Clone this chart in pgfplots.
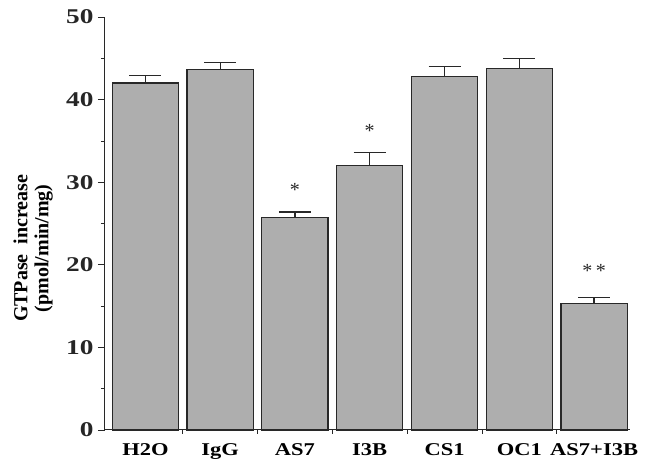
\documentclass[border=0pt]{standalone}
\usepackage{pgfplots}
\pgfplotsset{compat=1.18}
\usepackage{graphicx}
\usepackage{fontspec}
\setmainfont{Liberation Serif}
\definecolor{barfill}{RGB}{174,174,174}
\definecolor{edge}{RGB}{40,40,40}
\newcommand\xl[1]{\scalebox{1.25}[1]{#1}}
\begin{document}
\begin{tikzpicture}
\begin{axis}[
  scale only axis, width=525pt, height=413pt,
  xmin=-0.54, xmax=6.48, ymin=0, ymax=50,
  axis x line=bottom, axis y line=left,
  axis line style={-, line width=1pt, draw=edge},
  ybar, bar width=0.885, bar shift=0pt,
  xtick={0,...,6}, xticklabels={\xl{H2O},\xl{IgG},\xl{AS7},\xl{I3B},\xl{CS1},\xl{OC1},\xl{AS7+I3B}},
  x tick label style={font=\fontsize{18}{20}\selectfont\bfseries, yshift=-3pt},
  major x tick style={draw=none},
  minor xtick={0.5,1.5,...,5.5},
  minor x tick style={line width=0.8pt, draw=edge},
  ytick={0,10,...,50}, minor ytick={5,15,...,45},
  y tick style={line width=0.8pt, draw=edge},
  tick align=outside, major tick length=7pt, minor tick length=4pt,
  yticklabel={\scalebox{1.3}[1]{\pgfmathprintnumber{\tick}}},
  y tick label style={font=\fontsize{21}{22}\selectfont\bfseries, xshift=-1pt, text=black!85},
  /pgf/number format/assume math mode=true,
  ylabel={GTPase\ \ increase\\(pmol/min/mg)},
  ylabel style={font=\fontsize{20}{21}\selectfont\bfseries, align=center,
    at={(axis description cs:-0.137,0.44)}, anchor=center},
  clip=false,
]
\addplot[fill=barfill, draw=edge, line width=1.2pt,
  error bars/.cd, y dir=plus, y explicit,
  error bar style={line width=1.3pt, draw=edge},
  error mark options={rotate=90, mark size=16pt, line width=1.3pt, draw=edge}]
coordinates {
  (0,42.0) +- (0,0.9)
  (1,43.6) +- (0,0.9)
  (2,25.7) +- (0,0.7)
  (3,32.0) +- (0,1.6)
  (4,42.8) +- (0,1.2)
  (5,43.8) +- (0,1.2)
  (6,15.3) +- (0,0.7)
};
\node[font=\fontsize{20}{20}\selectfont, text=edge] at (axis cs:2,29.1) {*};
\node[font=\fontsize{20}{20}\selectfont, text=edge] at (axis cs:3,36.2) {*};
\node[font=\fontsize{20}{20}\selectfont, text=edge] at (axis cs:6,19.3) {*\,*};
\end{axis}
\pgfresetboundingbox
\path[use as bounding box] (current axis.south west) ++(-105pt,-31pt) rectangle ++(670pt,461pt);
\end{tikzpicture}
\end{document}
